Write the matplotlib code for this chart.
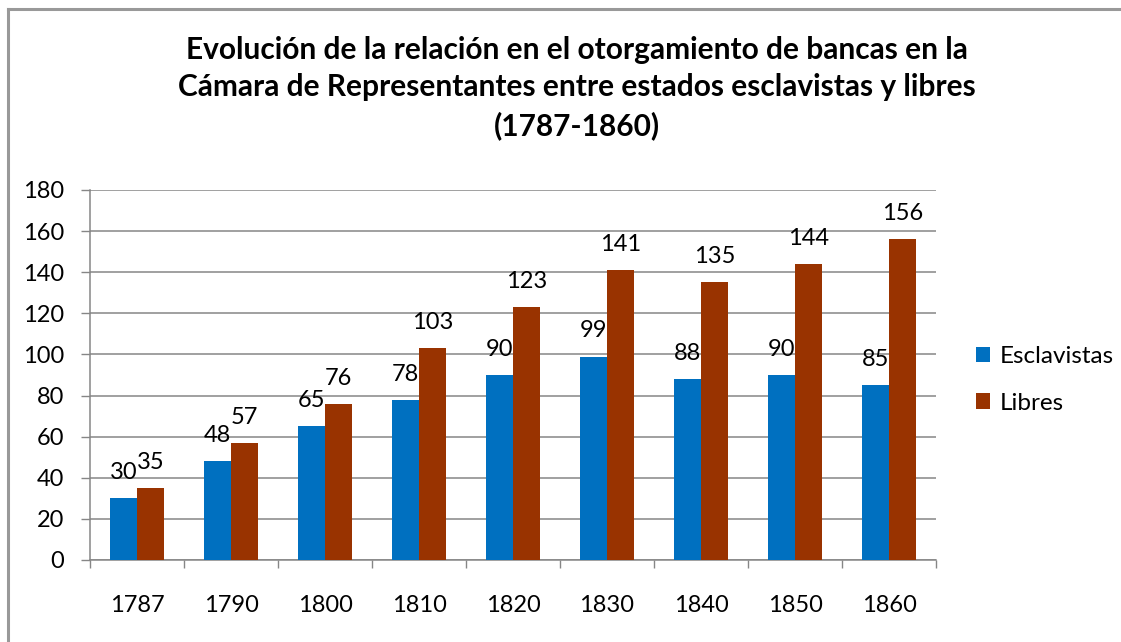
import numpy as np
import matplotlib.pyplot as plt
from matplotlib.patches import Patch
from matplotlib.lines import Line2D

years = ['1787', '1790', '1800', '1810', '1820', '1830', '1840', '1850', '1860']
esclavistas = [30, 48, 65, 78, 90, 99, 88, 90, 85]
libres = [35, 57, 76, 103, 123, 141, 135, 144, 156]

title = ('Evolución de la relación en el otorgamiento de bancas en la\n'
         'Cámara de Representantes entre estados esclavistas y libres\n'
         '(1787-1860)')

BLUE = '#0070C0'
RED = '#993300'
GRID = '#868686'

plt.rcParams['font.family'] = ['Lato', 'DejaVu Sans']

W, H = 1121, 642
fig = plt.figure(figsize=(W / 100, H / 100), dpi=100)
ax = fig.add_axes([90 / W, (H - 560) / H, (936 - 90) / W, (560 - 190) / H])

x = np.arange(len(years))
bw = 0.287
b1 = ax.bar(x - bw / 2, esclavistas, bw, color=BLUE, zorder=3)
b2 = ax.bar(x + bw / 2, libres, bw, color=RED, zorder=3)

for bars, vals in ((b1, esclavistas), (b2, libres)):
    for rect, v in zip(bars, vals):
        ax.annotate(str(v), (rect.get_x() + rect.get_width() / 2, v),
                    xytext=(0, 13.7), textcoords='offset points',
                    ha='center', va='baseline', fontsize=17, zorder=4)

ax.set_xlim(-0.5, len(years) - 0.5)
ax.set_ylim(0, 180)
ax.set_yticks(range(0, 181, 20))
ax.tick_params(axis='y', labelsize=17, length=6.5, color=GRID, width=1, pad=12)
ax.yaxis.grid(True, color=GRID, linewidth=1.1, zorder=0)

# category labels centered, tick marks at boundaries
ax.set_xticks(x)
ax.set_xticklabels(years, fontsize=17)
ax.tick_params(axis='x', length=0, pad=25)
ax.set_xticks(np.arange(len(years) + 1) - 0.5, minor=True)
ax.tick_params(axis='x', which='minor', length=6, color=GRID, width=1)

for s in ('top', 'right'):
    ax.spines[s].set_visible(False)
for s in ('left', 'bottom'):
    ax.spines[s].set_color(GRID)
    ax.spines[s].set_linewidth(1.1)

fig.text(577 / W, 1 - 88 / H, title, ha='center', va='center',
         fontsize=21.5, fontweight='bold', linespacing=1.4)

handles = [Patch(facecolor=BLUE, label='Esclavistas'),
           Patch(facecolor=RED, label='Libres')]
fig.legend(handles=handles, loc='center left',
           bbox_to_anchor=(954 / W, 1 - 380 / H), frameon=False,
           fontsize=17.5, handlelength=0.6, handleheight=0.6,
           handletextpad=0.4, labelspacing=1.05)

# chart border
fig.add_artist(Line2D([8 / W, 1], [1 - 9 / H, 1 - 9 / H], color='#999999', lw=2.2))
fig.add_artist(Line2D([8 / W, 8 / W], [0, 1 - 9 / H], color='#999999', lw=2.2))

fig.savefig('out.png', dpi=100)
